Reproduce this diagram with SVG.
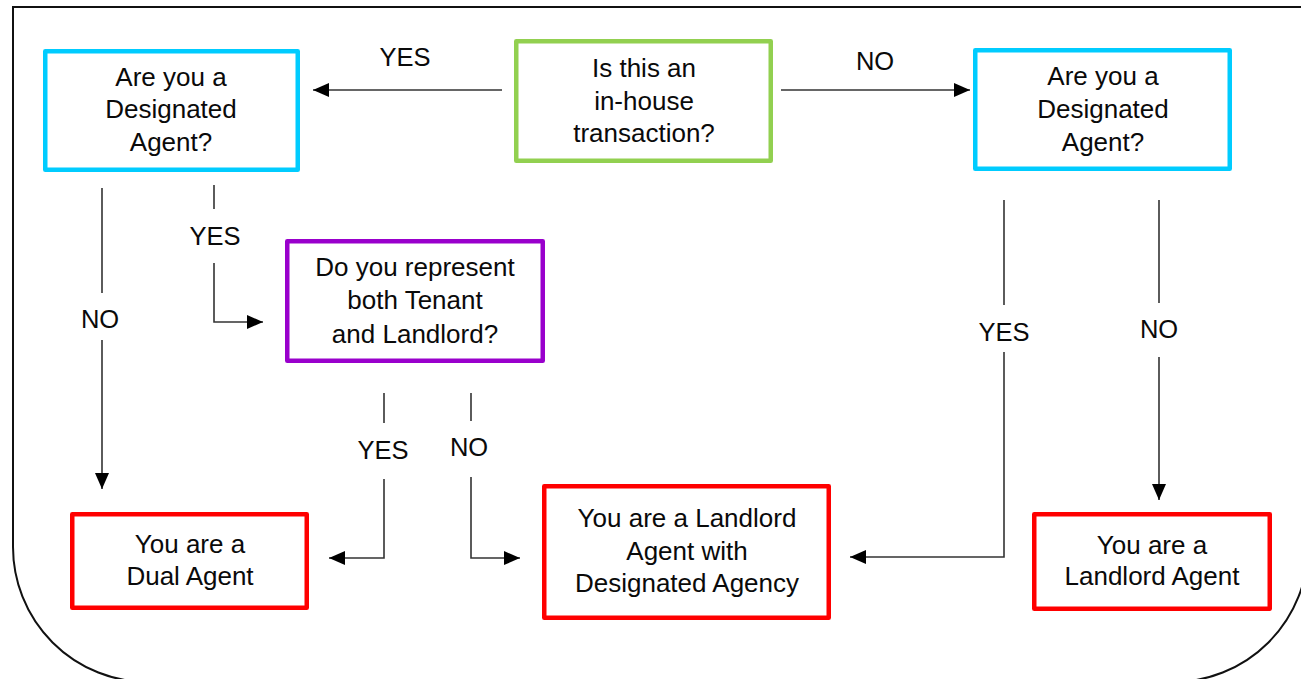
<svg xmlns="http://www.w3.org/2000/svg" width="1301" height="679" viewBox="0 0 1301 679">
<style>
.box{fill:#fff;stroke-width:4.5;stroke-linejoin:round}
.cyan{stroke:#00CCFF}
.green{stroke:#92D050}
.purple{stroke:#9900CC}
.red{stroke:#FF0000}
text{font-family:"Liberation Sans",Arial,sans-serif;font-size:26px;fill:#0a0a0a;text-anchor:middle}
.lbl{font-size:25.5px}
.conn{fill:none;stroke:#333;stroke-width:1.6}
.frame{fill:none;stroke:#111;stroke-width:2}
</style>
<defs>
<marker id="arr" markerUnits="userSpaceOnUse" markerWidth="16" markerHeight="14" refX="16" refY="7" orient="auto">
<path d="M0,0 L16,7 L0,14 z" fill="#000"/>
</marker>
</defs>
<rect width="1301" height="679" fill="#fff"/>
<path class="frame" d="M1310,7 H13 V547 A135,135 0 0 0 148,682 H1173 A135,135 0 0 0 1308,547 V7"/>

<g id="connectors">
<path class="conn" d="M502,90 H313" marker-end="url(#arr)"/>
<path class="conn" d="M781,90 H970" marker-end="url(#arr)"/>
<path class="conn" d="M102,188 V293"/>
<path class="conn" d="M102,340 V489" marker-end="url(#arr)"/>
<path class="conn" d="M214,185 V209"/>
<path class="conn" d="M214,263 V322 H263" marker-end="url(#arr)"/>
<path class="conn" d="M384,393 V423"/>
<path class="conn" d="M384,479 V558 H329" marker-end="url(#arr)"/>
<path class="conn" d="M471,393 V421"/>
<path class="conn" d="M471,477 V558 H520" marker-end="url(#arr)"/>
<path class="conn" d="M1004,200 V305"/>
<path class="conn" d="M1004,352 V557 H850" marker-end="url(#arr)"/>
<path class="conn" d="M1159,200 V303"/>
<path class="conn" d="M1159,357 V500" marker-end="url(#arr)"/>
<text class="lbl" x="405" y="66">YES</text>
<text class="lbl" x="875" y="70">NO</text>
<text class="lbl" x="100" y="328">NO</text>
<text class="lbl" x="215" y="245">YES</text>
<text class="lbl" x="383" y="459">YES</text>
<text class="lbl" x="469" y="456">NO</text>
<text class="lbl" x="1004" y="341">YES</text>
<text class="lbl" x="1159" y="338">NO</text>
</g>

<g id="q-inhouse">
<rect class="box green" x="516.25" y="41.25" width="254.5" height="119.5"/>
<text x="644" y="77">Is this an</text>
<text x="644" y="110">in-house</text>
<text x="644" y="142">transaction?</text>
</g>

<g id="q-designated-left">
<rect class="box cyan" x="45.25" y="51.25" width="252.5" height="118.5"/>
<text x="171" y="86">Are you a</text>
<text x="171" y="118">Designated</text>
<text x="171" y="151">Agent?</text>
</g>

<g id="q-designated-right">
<rect class="box cyan" x="975.25" y="50.25" width="254.5" height="118.5"/>
<text x="1103" y="85">Are you a</text>
<text x="1103" y="118">Designated</text>
<text x="1103" y="151">Agent?</text>
</g>

<g id="q-represent-both">
<rect class="box purple" x="287.25" y="241.25" width="255.5" height="119.5"/>
<text x="415" y="276">Do you represent</text>
<text x="415" y="309">both Tenant</text>
<text x="415" y="343">and Landlord?</text>
</g>

<g id="r-dual">
<rect class="box red" x="72.25" y="514.25" width="234.5" height="93.5"/>
<text x="190" y="553">You are a</text>
<text x="190" y="585">Dual Agent</text>
</g>

<g id="r-landlord-designated">
<rect class="box red" x="544.25" y="486.25" width="284.5" height="131.5"/>
<text x="687" y="527">You are a Landlord</text>
<text x="687" y="560">Agent with</text>
<text x="687" y="592">Designated Agency</text>
</g>

<g id="r-landlord">
<rect class="box red" x="1034.25" y="514.25" width="235.5" height="94.5"/>
<text x="1152" y="554">You are a</text>
<text x="1152" y="585">Landlord Agent</text>
</g>
</svg>
